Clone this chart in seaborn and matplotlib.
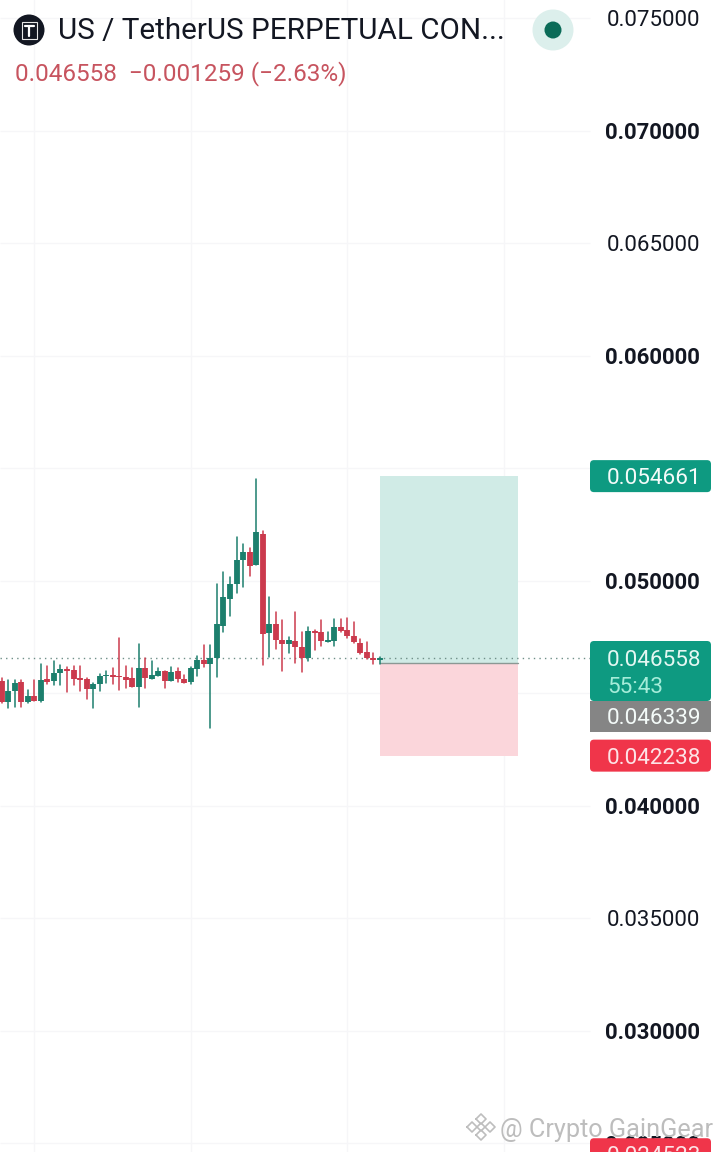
import numpy as np
import pandas as pd
import seaborn as sns
import matplotlib.pyplot as plt
from matplotlib.patches import Circle, FancyBboxPatch, Rectangle

# candles, values in millionths of a USDT
highs = [45674, 45600, 45600, 45600, 45156, 45600, 46296, 46237, 46430, 46282,
         46193, 46237, 46237, 45704, 45482, 45867, 46015, 46119, 47482, 46222,
         46119, 47200, 46593, 46430, 46119, 46015, 46193, 46119, 45822, 46163,
         46682, 47156, 47156, 49852, 50415, 50163, 51956, 51630, 51452, 54519,
         52237, 49274, 48637, 48252, 47526, 48608, 47719, 47971, 47822, 48252,
         47719, 48296, 48296, 48341, 48163, 47437, 47304, 46785, 46607]
tops = [45541, 45126, 45482, 45496, 44889, 44889, 45615, 45630, 45926, 46104,
        46074, 46059, 45674, 45659, 45437, 45793, 45822, 45808, 45763, 45748,
        45674, 46148, 46148, 45837, 46015, 46000, 45956, 45985, 45659, 46119,
        46474, 46474, 46563, 48074, 49274, 49881, 50919, 51274, 51274, 52163,
        52104, 48104, 48104, 47378, 47363, 47348, 47081, 47793, 47793, 47719,
        47363, 47941, 47941, 47837, 47570, 47259, 46830, 46593, 46593]
bottoms = [44637, 44607, 45111, 44607, 44607, 44667, 44667, 45526, 45541, 45896,
           46015, 45630, 45615, 45185, 45185, 45407, 45763, 45748, 45719, 45585,
           45304, 45304, 45674, 45659, 45793, 45541, 45541, 45630, 45482, 45496,
           46074, 46326, 46326, 46563, 48000, 49185, 49852, 50919, 50682, 50696,
           47644, 47674, 47363, 47185, 47185, 47052, 46563, 46563, 47674, 47319,
           47304, 47319, 47793, 47541, 47274, 46785, 46563, 46474, 46489]
lows = [44593, 44341, 44385, 44385, 44563, 44667, 44607, 45422, 45393, 45378,
        45082, 45363, 45126, 44741, 44370, 45126, 45482, 45422, 45170, 45259,
        45304, 44385, 45230, 45630, 45778, 45230, 45541, 45496, 45452, 45422,
        45793, 46163, 43482, 45718, 47733, 48459, 49452, 49733, 50208, 50696,
        46252, 46607, 46963, 46015, 46785, 46370, 45941, 46430, 46933, 47126,
        47304, 47126, 47748, 47452, 47259, 46756, 46533, 46311, 46326]
colors = ("rggrgrgrgg" "rrrrgggrrr" "rgrggrgrrg" "grggggggrg" "rgrrgrrgrr" "ggrrrrrrg")
direction = ["up" if d == "g" else "down" for d in colors]

price_ticks = [0.075, 0.070, 0.065, 0.060, 0.055, 0.050, 0.045, 0.040, 0.035, 0.030, 0.025]
price_tick_labels = ["0.075000", "0.070000", "0.065000", "0.060000", "", "0.050000", "",
                     "0.040000", "0.035000", "0.030000", "0.025000"]
bold_ticks = ["0.070000", "0.060000", "0.050000", "0.040000", "0.030000", "0.025000"]
time_ticks = [5, 29, 53, 77]

last_price = 0.046558
take_profit = 0.054661
entry_price = 0.046339
stop_loss = 0.042238
low_label_price = 0.024523
position_start, position_end = 58, 79.2

GREEN = "#1c7f6d"
RED = "#cb3a4d"
palette = {"up": GREEN, "down": RED}

sns.set_theme(style="white")
plt.rcParams["font.family"] = ["Roboto", "DejaVu Sans"]

n = len(highs)
df = pd.DataFrame({"i": range(n), "high": highs, "top": tops, "bottom": bottoms,
                   "low": lows, "dir": direction})
for c in ["high", "top", "bottom", "low"]:
    df[c] = df[c] / 1e6
wicks = df.melt(id_vars=["i", "dir"], value_vars=["high", "low"], value_name="price")
bodies = df.melt(id_vars=["i", "dir"], value_vars=["top", "bottom"], value_name="price")

fig = plt.figure(figsize=(7.2, 11.52), dpi=100)
ax = fig.add_axes([0, 0, 1, 1])

xlim = (-0.276, 110.15)
ylim = (0.024622, 0.075822)
x_scale_end = 90.2  # where the price scale starts

ax.hlines(price_ticks, xlim[0], x_scale_end, color="#f6f6f8", lw=1, zorder=0)
ax.set_xticks(time_ticks)
ax.grid(axis="x", color="#f6f6f8", lw=1, zorder=0)
ax.set_axisbelow(True)

ax.fill_between([position_start, position_end], entry_price, take_profit,
                color="#d0ebe6", lw=0, zorder=1)
ax.fill_between([position_start, position_end], stop_loss, entry_price,
                color="#fbd6db", lw=0, zorder=1)
ax.plot([position_start, position_end], [entry_price, entry_price], color="#8b9894", lw=1, zorder=2)
ax.plot([xlim[0], x_scale_end], [last_price, last_price], color="#6f8f88", lw=1,
        ls=(0, (1, 3)), zorder=2)

sns.lineplot(data=wicks, x="i", y="price", hue="dir", units="i", estimator=None, sort=False,
             palette=palette, lw=1.1, legend=False, ax=ax, zorder=3)
sns.lineplot(data=bodies, x="i", y="price", hue="dir", units="i", estimator=None, sort=False,
             palette=palette, lw=4.2, legend=False, ax=ax, zorder=4,
             solid_capstyle="butt")

ax.set_xlim(*xlim)
ax.set_ylim(*ylim)
ax.set_xlabel("")
ax.set_ylabel("")
ax.set_xticklabels([])
ax.set_yticks([p for p, l in zip(price_ticks, price_tick_labels) if l])
ax.set_yticklabels([l for l in price_tick_labels if l])
ax.yaxis.tick_right()
ax.tick_params(axis="y", length=0, pad=-14.4, labelsize=16, labelcolor="#131722")
ax.tick_params(axis="x", length=0)
for t in ax.get_yticklabels():
    t.set_ha("right")
    if t.get_text() in bold_ticks:
        t.set_fontweight("bold")
sns.despine(ax=ax, left=True, bottom=True, right=True, top=True)

# overlay in pixel coordinates for the header and the scale labels
ov = fig.add_axes([0, 0, 1, 1])
ov.set_xlim(0, 720)
ov.set_ylim(1152, 0)
ov.axis("off")
ov.patch.set_alpha(0)


def to_px(price):
    return (ylim[1] - price) / (ylim[1] - ylim[0]) * 1152


def price_box(y0, y1, color):
    ov.add_patch(FancyBboxPatch((593, y0 + 3), 115, y1 - y0 - 6, boxstyle="round,pad=3,rounding_size=4",
                                fc=color, ec="none", zorder=5))


def price_text(y, s, color="#f4fbf9"):
    ov.text(607, y, s, color=color, fontsize=16.2, ha="left", va="center_baseline", zorder=7)


y_tp = to_px(take_profit)
price_box(y_tp - 16, y_tp + 16, "#0e9a81")
price_text(y_tp, "0.054661")

price_box(641, 701, "#0e9a81")
price_text(658, "0.046558", "#e4f7f2")
price_text(685, "55:43", "#a5ecd9")

ov.add_patch(Rectangle((590, 701), 121, 31, fc="#858585", ec="none", zorder=6))
price_text(716, "0.046339")

y_sl = to_px(stop_loss)
price_box(y_sl - 16, y_sl + 16, "#f0354a")
price_text(y_sl, "0.042238", "#fde3e6")

y_low = to_px(low_label_price)
price_box(y_low - 16, y_low + 16, "#f0354a")
price_text(y_low, "0.024523", "#fde3e6")

# header
ov.add_patch(Circle((29, 30), 15.5, fc="#131722", ec="none", zorder=6))
ov.add_patch(Rectangle((21.5, 21.5), 15.5, 17, fc="none", ec="#e8e8e8", lw=0.8, zorder=7))
ov.plot([24.5, 34], [25.5, 25.5], color="white", lw=1.6, zorder=8)
ov.plot([29.3, 29.3], [25.5, 36], color="white", lw=1.6, zorder=8)
ov.text(58, 28, "US / TetherUS PERPETUAL CON...", color="#131722", fontsize=21.3,
        ha="left", va="center_baseline", zorder=7)
ov.text(15, 71, "0.046558  \u22120.001259 (\u22122.63%)", color="#c7545f", fontsize=17.5,
        ha="left", va="center_baseline", zorder=7)
ov.add_patch(Circle((553, 30), 20.5, fc="#dcefec", ec="none", zorder=6))
ov.add_patch(Circle((553, 30), 8.5, fc="#0b6b58", ec="none", zorder=7))

# watermark
wm = "#bdbdbd"
for cx, cy, r in [(481, 1119, 5), (472, 1127, 5), (490, 1127, 5), (481, 1135, 5), (481, 1127, 4)]:
    ov.plot([cx - r, cx, cx + r, cx, cx - r], [cy, cy - r, cy, cy + r, cy], color=wm, lw=1.2, zorder=8)
ov.text(500, 1127, "@ Crypto GainGear", color=wm, fontsize=18.2, ha="left",
        va="center_baseline", zorder=8)

fig.savefig("out.png", dpi=100)
